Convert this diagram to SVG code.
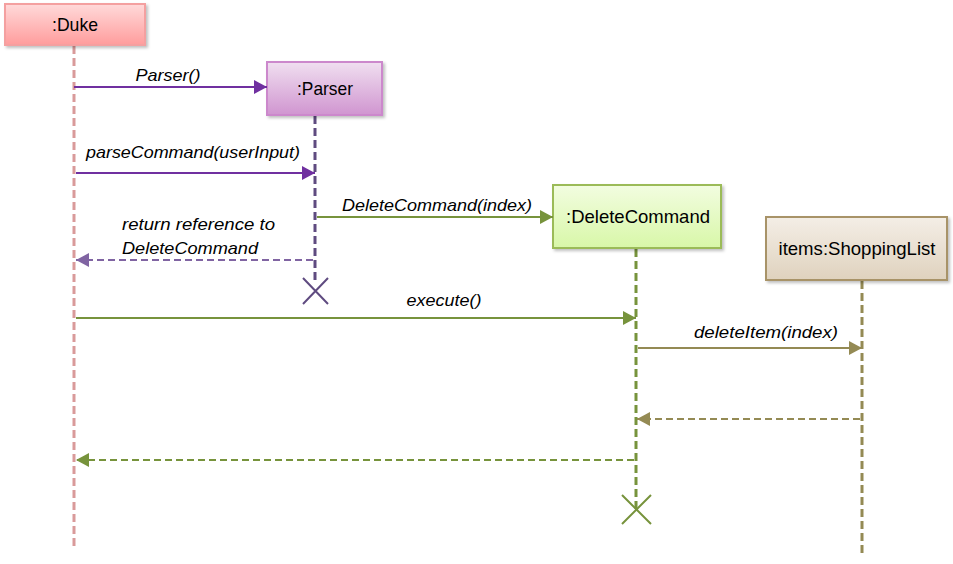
<svg xmlns="http://www.w3.org/2000/svg" width="953" height="564" viewBox="0 0 953 564">
<style>
text{font-family:"Liberation Sans",Arial,sans-serif;font-size:17px;fill:#000}
.name{font-size:18.5px}
.lbl{font-style:italic}
.box{stroke-width:2}
.life{fill:none;stroke-width:3;stroke-dasharray:8 4}
.msg{fill:none;stroke-width:2}
.ret{fill:none;stroke-width:2;stroke-dasharray:7 4}
</style>
<defs>
<linearGradient id="gDuke" x1="0" y1="0" x2="0" y2="1"><stop offset="0" stop-color="#ffdada"/><stop offset="1" stop-color="#ff9c9c"/></linearGradient>
<linearGradient id="gParser" x1="0" y1="0" x2="0" y2="1"><stop offset="0" stop-color="#f0dff0"/><stop offset="1" stop-color="#d095d0"/></linearGradient>
<linearGradient id="gDel" x1="0" y1="0" x2="0" y2="1"><stop offset="0" stop-color="#f2fde0"/><stop offset="1" stop-color="#d8f7a8"/></linearGradient>
<linearGradient id="gShop" x1="0" y1="0" x2="0" y2="1"><stop offset="0" stop-color="#f4eee6"/><stop offset="1" stop-color="#dfd2be"/></linearGradient>
<filter id="sh" x="-10%" y="-10%" width="130%" height="140%"><feDropShadow dx="2" dy="2" stdDeviation="1.5" flood-color="#000" flood-opacity="0.25"/></filter>
<marker id="aPurple" markerWidth="14" markerHeight="14" refX="13" refY="7" orient="auto" markerUnits="userSpaceOnUse"><path d="M0,0 L13,7 L0,14 Z" fill="#7030a0"/></marker>
<marker id="aPurpleL" markerWidth="14" markerHeight="14" refX="13" refY="7" orient="auto" markerUnits="userSpaceOnUse"><path d="M0,0 L13,7 L0,14 Z" fill="#8064a2"/></marker>
<marker id="aGreen" markerWidth="14" markerHeight="14" refX="13" refY="7" orient="auto" markerUnits="userSpaceOnUse"><path d="M0,0 L13,7 L0,14 Z" fill="#77933c"/></marker>
<marker id="aOlive" markerWidth="14" markerHeight="14" refX="13" refY="7" orient="auto" markerUnits="userSpaceOnUse"><path d="M0,0 L13,7 L0,14 Z" fill="#948a54"/></marker>
</defs>
<rect width="953" height="564" fill="#fff"/>

<g id="duke">
<line class="life" x1="74" y1="46" x2="74" y2="548" stroke="#d99a9a"/>
<rect class="box" x="5" y="4" width="140" height="41" fill="url(#gDuke)" stroke="#f4a0a0" filter="url(#sh)"/>
<text class="name" x="75" y="31" text-anchor="middle" textLength="46" lengthAdjust="spacingAndGlyphs">:Duke</text>
</g>

<g id="parser">
<line class="life" x1="315" y1="116" x2="315" y2="284" stroke="#5f4b80"/>
<rect class="box" x="267" y="62" width="115" height="53" fill="url(#gParser)" stroke="#cc88cc" filter="url(#sh)"/>
<text class="name" x="325" y="95" text-anchor="middle" textLength="56" lengthAdjust="spacingAndGlyphs">:Parser</text>
<path d="M303,278 L328,304 M328,278 L303,304" stroke="#5f4b80" stroke-width="2" fill="none"/>
</g>

<g id="deleteCommand">
<line class="life" x1="636" y1="249" x2="636" y2="512" stroke="#77933c"/>
<rect class="box" x="553" y="185" width="168" height="63" fill="url(#gDel)" stroke="#9bbb59" filter="url(#sh)"/>
<text class="name" x="638" y="223" text-anchor="middle" textLength="144" lengthAdjust="spacingAndGlyphs">:DeleteCommand</text>
<path d="M622,495 L651,524 M651,495 L622,524" stroke="#77933c" stroke-width="2" fill="none"/>
</g>

<g id="shoppingList">
<line class="life" x1="862" y1="281" x2="862" y2="556" stroke="#948a54"/>
<rect class="box" x="766" y="217" width="181" height="63" fill="url(#gShop)" stroke="#a89368" filter="url(#sh)"/>
<text class="name" x="857" y="255" text-anchor="middle" textLength="157" lengthAdjust="spacingAndGlyphs">items:ShoppingList</text>
</g>

<g id="connectors">
<line class="msg" x1="74" y1="87" x2="267" y2="87" stroke="#7030a0" marker-end="url(#aPurple)"/>
<text class="lbl" x="168" y="81" text-anchor="middle" textLength="65" lengthAdjust="spacingAndGlyphs">Parser()</text>

<line class="msg" x1="76" y1="173" x2="315" y2="173" stroke="#7030a0" marker-end="url(#aPurple)"/>
<text class="lbl" x="193" y="158" text-anchor="middle" textLength="214" lengthAdjust="spacingAndGlyphs">parseCommand(userInput)</text>

<line class="msg" x1="317" y1="217" x2="553" y2="217" stroke="#77933c" marker-end="url(#aGreen)"/>
<text class="lbl" x="437" y="211" text-anchor="middle" textLength="190" lengthAdjust="spacingAndGlyphs">DeleteCommand(index)</text>

<line class="ret" x1="313" y1="260" x2="76" y2="260" stroke="#8064a2" marker-end="url(#aPurpleL)"/>
<text class="lbl" x="122" y="230" textLength="153" lengthAdjust="spacingAndGlyphs">return reference to</text>
<text class="lbl" x="122" y="254" textLength="136" lengthAdjust="spacingAndGlyphs">DeleteCommand</text>

<line class="msg" x1="76" y1="318" x2="636" y2="318" stroke="#77933c" marker-end="url(#aGreen)"/>
<text class="lbl" x="444" y="306" text-anchor="middle" textLength="75" lengthAdjust="spacingAndGlyphs">execute()</text>

<line class="msg" x1="638" y1="348" x2="862" y2="348" stroke="#948a54" marker-end="url(#aOlive)"/>
<text class="lbl" x="766" y="338" text-anchor="middle" textLength="144" lengthAdjust="spacingAndGlyphs">deleteItem(index)</text>

<line class="ret" x1="860" y1="419" x2="637" y2="419" stroke="#948a54" marker-end="url(#aOlive)"/>

<line class="ret" x1="634" y1="460" x2="76" y2="460" stroke="#77933c" marker-end="url(#aGreen)"/>
</g>
</svg>
